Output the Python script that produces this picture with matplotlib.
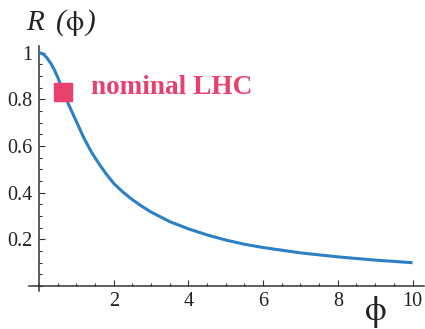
import matplotlib
matplotlib.use('agg')
import matplotlib.pyplot as plt
from matplotlib.ticker import MultipleLocator, FixedLocator

# curve R(phi)
phi = [0.0, 0.1, 0.2, 0.3, 0.4, 0.5, 0.6, 0.7, 0.8, 0.9, 1.0, 1.2, 1.4,
       1.6, 1.8, 2.0, 2.25, 2.5, 2.75, 3.0, 3.5, 4.0, 4.5, 5.0, 5.5, 6.0,
       7.0, 8.0, 9.0, 10.0]
R = [1.0, 0.995, 0.98, 0.958, 0.93, 0.895, 0.855, 0.815, 0.775, 0.74, 0.705,
     0.635, 0.575, 0.525, 0.48, 0.44, 0.402, 0.370, 0.342, 0.317, 0.276,
     0.245, 0.219, 0.197, 0.179, 0.165, 0.142, 0.125, 0.111, 0.100]

# nominal LHC point
lhc_phi = 0.64
lhc_R = 0.83
lhc_label = 'nominal LHC'

xticks = [2, 4, 6, 8, 10]
yticks = [0.2, 0.4, 0.6, 0.8, 1.0]
yticklabels = ['0.2', '0.4', '0.6', '0.8', '1']

serif = ['Liberation Serif', 'DejaVu Serif']
plt.rcParams['font.family'] = serif
greek = ['STIXGeneral', 'DejaVu Serif']
blue = '#2C80C6'
pink = '#E8416E'
axcol = '#333333'
txtcol = '#222222'

fig = plt.figure(figsize=(4.25, 3.29), dpi=100)
ax = fig.add_axes([0.068, 0.1164, 0.929, 0.745])

ax.plot(phi, R, color=blue, lw=2.2, solid_capstyle='butt', zorder=3)
ax.plot([lhc_phi], [lhc_R], marker='s', ms=13, color=pink, mec=pink,
        ls='none', zorder=4)
ax.text(1.38, 0.852, lhc_label, color=pink, fontsize=19.6, fontweight='bold',
        va='center', ha='left')

ax.set_xlim(-0.27, 10.3)
ax.set_ylim(-0.02, 1.03)

for s in ['top', 'right']:
    ax.spines[s].set_visible(False)
ax.spines['left'].set_position(('data', 0))
ax.spines['bottom'].set_position(('data', 0))
for s in ['left', 'bottom']:
    ax.spines[s].set_color(axcol)
    ax.spines[s].set_linewidth(1.1)

ax.xaxis.set_major_locator(FixedLocator(xticks))
ax.xaxis.set_minor_locator(MultipleLocator(0.5))
ax.yaxis.set_major_locator(FixedLocator(yticks))
ax.yaxis.set_minor_locator(MultipleLocator(0.05))
ax.set_yticklabels(yticklabels)
ax.tick_params(which='both', direction='in', color=axcol, width=0.8,
               labelsize=14.5, labelcolor=txtcol)
ax.tick_params(which='major', length=4.5)
ax.tick_params(which='minor', length=2.5)
ax.tick_params(axis='x', pad=4)
ax.tick_params(axis='y', pad=5)

# axis labels
ty = 1 - 30 / 329
fig.text(26.5 / 425, ty, 'R', fontsize=21, fontstyle='italic',
         color=txtcol, va='baseline', ha='left')
fig.text(55.5 / 425, ty, '(', fontsize=21, fontstyle='italic',
         color=txtcol, va='baseline', ha='left')
fig.text(74 / 425, ty, 'ϕ', fontsize=21, family=greek, color=txtcol,
         va='baseline', ha='center')
fig.text(85 / 425, ty, ')', fontsize=21, fontstyle='italic',
         color=txtcol, va='baseline', ha='left')
fig.text(376 / 425, 1 - 320 / 329, 'ϕ', fontsize=25, family=greek,
         color=txtcol, va='baseline', ha='center')

fig.savefig('out.png', dpi=100, facecolor='white')
